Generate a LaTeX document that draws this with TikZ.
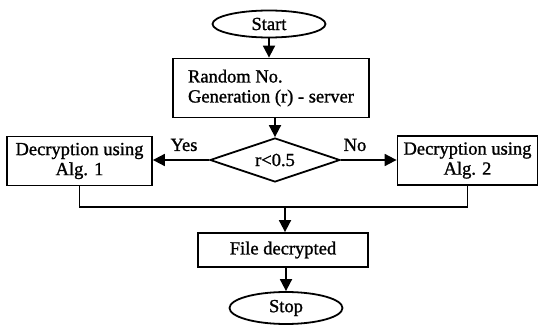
\documentclass[tikz,border=0pt]{standalone}
\usepackage{fontspec}
\setmainfont{Liberation Serif}[BoldFont=Liberation Serif, BoldFeatures={FakeBold=1.2}]
\usetikzlibrary{shapes.geometric,arrows.meta}
\begin{document}
\begin{tikzpicture}[x=1pt,y=-1pt,
  every node/.style={font=\fontsize{18.5}{20}\selectfont\bfseries, inner sep=0pt},
  flowline/.style={line width=1.8pt},
  arr/.style={flowline,-{Triangle[length=12pt,width=12pt]}},
  term/.style={draw, ellipse, line width=1.8pt, minimum width=113pt, minimum height=27pt},
  proc/.style={draw, rectangle, line width=1.8pt},
  decide/.style={draw, diamond, line width=1.8pt, minimum width=130pt, minimum height=44pt, aspect=2.95}
]
\useasboundingbox (0,0) rectangle (541,326);
\node[term] (start) at (269,24) {Start};
\node[proc, minimum width=196pt, minimum height=59pt, align=left] (rnd) at (271,88) {Random No.\\Generation (r) - server};
\node[decide] (dia) at (275,160) {r{\textless}0.5};
\node[proc, minimum width=145pt, minimum height=49pt, align=center] (alg1) at (79.5,161) {Decryption using\\Alg. 1};
\node[proc, minimum width=140pt, minimum height=49pt, align=center] (alg2) at (467.5,160.5) {Decryption using\\Alg. 2};
\node[proc, minimum width=170pt, minimum height=34pt] (fd) at (283,250) {File decrypted};
\node[term, minimum height=32pt] (stop) at (286,308) {Stop};
\node (yes) at (184,145) {Yes};
\node (no) at (355,145) {No};
\coordinate (mrg) at (285,207);

\draw[arr] (start.south) -- (start.south |- rnd.north);
\draw[arr] (dia.north |- rnd.south) -- (dia.north);
\draw[arr] (dia.west) -- (dia.west -| alg1.east);
\draw[arr] (dia.east) -- (dia.east -| alg2.west);
\draw[flowline] (alg1.south) -- (alg1.south |- mrg) -- (alg2.south |- mrg) -- (alg2.south);
\draw[arr] (mrg) -- (mrg |- fd.north);
\draw[arr] (fd.south -| stop.north) -- (stop.north);
\end{tikzpicture}
\end{document}
